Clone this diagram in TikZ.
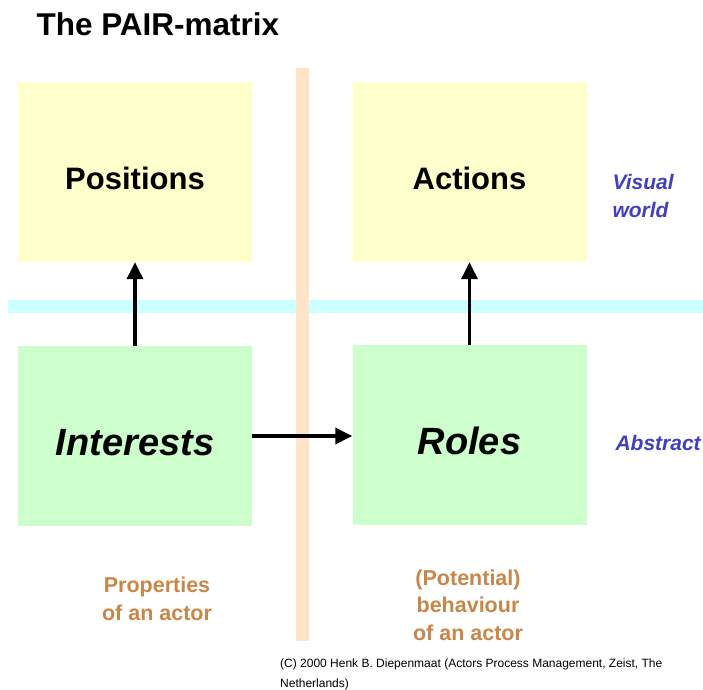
\documentclass[tikz,border=0pt]{standalone}
\usepackage{fontspec}
\setmainfont{Liberation Sans}
\usetikzlibrary{arrows.meta}

\definecolor{posyellow}{RGB}{255,255,204}
\definecolor{intgreen}{RGB}{204,255,204}
\definecolor{barcyan}{RGB}{204,255,255}
\definecolor{barpeach}{RGB}{255,228,202}
\definecolor{pairblue}{RGB}{64,64,192}
\definecolor{pairorange}{RGB}{200,134,72}

\begin{document}
\begin{tikzpicture}[x=1pt,y=-1pt,
    box/.style={rectangle,inner sep=0pt,minimum width=234pt,minimum height=180pt,
      font=\fontsize{31}{31}\selectfont\bfseries,text height=34pt,text depth=0pt},
    slantbox/.style={box,font=\fontsize{38}{38}\selectfont\bfseries\itshape,text height=39pt},
    flow/.style={line width=3.5pt,-{Triangle[length=17pt,width=16pt]}},
    side/.style={font=\fontsize{21}{28}\selectfont\bfseries\itshape,text=pairblue,align=left},
    note/.style={font=\fontsize{21.5}{27.5}\selectfont\bfseries,text=pairorange,align=center}]
    \useasboundingbox (0,0) rectangle (703,689);

    \node[anchor=base west,font=\fontsize{31.5}{31.5}\selectfont\bfseries] (title) at (33,35) {The PAIR-matrix};

    % the two bars that split the matrix
    \fill[barcyan] (8,300) rectangle (703,313);
    \fill[barpeach] (296,68) rectangle (309,641);

    \node[box,fill=posyellow] (positions) at (135,172) {Positions};
    \node[box,fill=posyellow] (actions) at (469.5,172) {Actions};
    \node[slantbox,fill=intgreen] (interests) at (135,436) {Interests};
    \node[slantbox,fill=intgreen] (roles) at (469.5,435) {Roles};

    \draw[flow] (interests.north) -- (positions.south);
    \draw[flow] (roles.north) -- (actions.south);
    \draw[flow] (interests.east) -- (interests.east -| roles.west);

    \node[side,anchor=west] (visual) at (609,196) {Visual\\world};
    \node[side,anchor=west] (abstract) at (612,443) {Abstract};

    \node[note] (props) at (157,599) {Properties\\of an actor};
    \node[note] (behav) at (468,605) {(Potential)\\behaviour\\of an actor};

    \node[anchor=north west,inner sep=0pt,align=left,font=\fontsize{12}{19.5}\selectfont] (copy) at (280,659)
      {(C) 2000 Henk B. Diepenmaat (Actors Process Management, Zeist, The\\Netherlands)};
  \end{tikzpicture}
\end{document}
